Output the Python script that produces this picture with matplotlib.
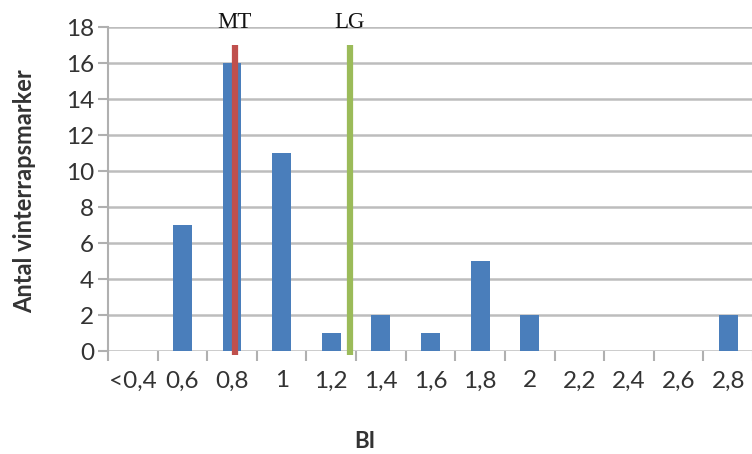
import numpy as np
import matplotlib.pyplot as plt

# BI classes and number of winter rape fields in each
categories = ['<0,4', '0,6', '0,8', '1', '1,2', '1,4', '1,6', '1,8', '2', '2,2', '2,4', '2,6', '2,8']
counts = [0, 7, 16, 11, 1, 2, 1, 5, 2, 0, 0, 0, 2]

# reference levels on the BI scale
ref_names = ['MT', 'LG']
ref_bi = [0.81, 1.275]
ref_colors = ['#c0504d', '#9bbb59']

bi_start = 0.4
bi_step = 0.2

def bi_to_pos(bi):
    return (bi - bi_start) / bi_step

fig = plt.figure(figsize=(7.52, 4.54), dpi=100)
ax = fig.add_axes([108 / 752, 103 / 454, 645 / 752, 324 / 454])

x = np.arange(len(categories))
ax.bar(x, counts, width=0.38, color='#4a7ebb', zorder=3)

ax.set_xlim(-0.5, len(categories) - 0.5)
ax.set_ylim(0, 18)

# category borders get tick marks, labels sit in the middle
ax.set_xticks(np.arange(-0.5, len(categories), 1.0))
ax.set_xticklabels([])
ax.set_xticks(x, minor=True)
ax.set_xticklabels(categories, minor=True, fontsize=17.5, family='Lato', color='#333333')
ax.tick_params(axis='x', which='major', length=7, width=1.5, color='#b0b0b0', direction='out')
ax.tick_params(axis='x', which='minor', length=0, pad=14)

ax.set_yticks(np.arange(0, 19, 2))
ax.set_yticklabels([str(v) for v in range(0, 19, 2)], fontsize=17.5, family='Lato', color='#333333')
ax.tick_params(axis='y', length=7, width=1.5, color='#b0b0b0', pad=3)

ax.grid(axis='y', color='#bdbdbd', linewidth=1.8, zorder=0)
for side in ['top', 'right', 'bottom']:
    ax.spines[side].set_visible(False)
ax.spines['left'].set_color('#b0b0b0')
ax.spines['left'].set_linewidth(1.5)

for name, bi, col in zip(ref_names, ref_bi, ref_colors):
    pos = bi_to_pos(bi)
    ax.plot([pos, pos], [-0.2, 17], color=col, linewidth=4.5, zorder=4,
            solid_capstyle='butt', clip_on=False)
    ax.text(pos, 17.93, name, ha='center', va='baseline', fontsize=16.5,
            family='Liberation Serif', color='#111111')

fig.text(25 / 752, 1 - 191 / 454, 'Antal vinterrapsmarker', rotation=90,
         ha='center', va='center', fontsize=17, fontweight='bold',
         family='Lato', color='#333333')
fig.text(365 / 752, 1 - 441 / 454, 'BI', ha='center', va='center', fontsize=16,
         fontweight='bold', family='Lato', color='#333333')

fig.savefig('out.png', dpi=100)
